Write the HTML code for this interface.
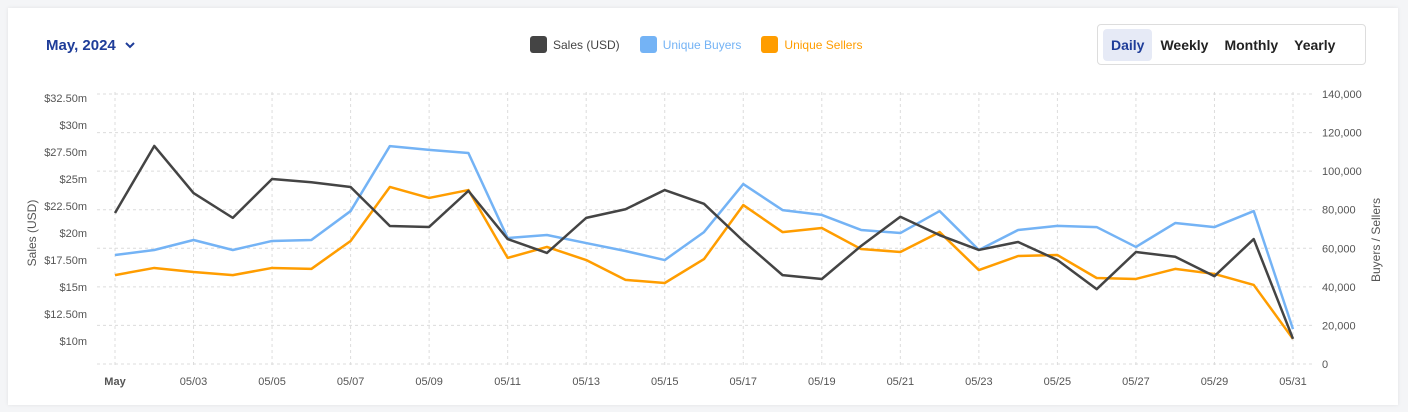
<!DOCTYPE html>
<html><head><meta charset="utf-8"><style>
body{margin:0;width:1408px;height:412px;background:#f4f5f7;font-family:"Liberation Sans",sans-serif;overflow:hidden}
.card{position:absolute;left:8px;top:8px;width:1390px;height:397px;background:#fff;box-shadow:0 0 4px rgba(0,0,0,.08)}
.month{position:absolute;left:46px;top:37px;color:#1f3d99;font-size:15px;font-weight:bold}
.legend{position:absolute;top:36px;left:530px;font-size:12px;display:flex;gap:20px}
.li{display:flex;align-items:center;gap:6px}
.sw{width:17px;height:17px;border-radius:3px}
.tabs{position:absolute;left:1097px;top:24px;width:269px;height:41px;border:1px solid #ddd;border-radius:4px;display:flex;align-items:center;padding-left:5px;box-sizing:border-box;font-size:14px;color:#222;font-weight:bold}
.tab{padding:8px 8px}
.tab.on{background:#e6eaf6;color:#1f3d99;border-radius:4px}
</style></head><body>
<div class="card"></div>
<div class="month">May, 2024 <svg width="12" height="10" style="margin-left:4px" viewBox="0 0 12 10"><polyline points="2,3 6,7 10,3" fill="none" stroke="#1f3d99" stroke-width="2"/></svg></div>
<div class="legend">
<div class="li"><div class="sw" style="background:#444"></div><span style="color:#444">Sales (USD)</span></div>
<div class="li"><div class="sw" style="background:#74b3f5"></div><span style="color:#74b3f5">Unique Buyers</span></div>
<div class="li"><div class="sw" style="background:#ff9d00"></div><span style="color:#ff9d00">Unique Sellers</span></div>
</div>
<div class="tabs">
<div class="tab on">Daily</div>
<div class="tab">Weekly</div>
<div class="tab">Monthly</div>
<div class="tab">Yearly</div>
</div>
<svg id="c" width="1408" height="412" style="position:absolute;left:0;top:0"></svg>
<script>
const sales=[21.85,28.06,23.7,21.4,25.0,24.7,24.26,20.65,20.56,23.9,19.44,18.15,21.4,22.2,23.98,22.7,19.26,16.1,15.74,18.8,21.5,19.8,18.43,19.17,17.5,14.8,18.24,17.8,16.0,19.44,10.2];
const buyers=[56500,59100,64300,59100,63800,64300,79300,113000,111000,109400,65300,66900,62700,58600,53900,68400,93300,79800,77300,69500,67900,79300,59100,69500,71600,71000,60700,73100,71000,79300,18100];
const sellers=[46100,49800,47700,46100,49800,49300,63800,91800,86100,90200,55000,60700,53900,43600,42000,54400,82400,68400,70500,59600,58100,68400,48700,56000,56500,44600,44100,49300,46700,41000,13000];
const leftTicks=[10,12.5,15,17.5,20,22.5,25,27.5,30,32.5];
const leftLabels=["$10m","$12.50m","$15m","$17.50m","$20m","$22.50m","$25m","$27.50m","$30m","$32.50m"];
const rightTicks=[0,20000,40000,60000,80000,100000,120000,140000];
const xLabels=["May","05/03","05/05","05/07","05/09","05/11","05/13","05/15","05/17","05/19","05/21","05/23","05/25","05/27","05/29","05/31"];
const svg=document.getElementById('c'),NS='http://www.w3.org/2000/svg';
const X=i=>115+i*(1178/30);
const YL=v=>341-(v-10)*10.8;
const YR=v=>364-v/140000*270;
function el(t,a,txt){const e=document.createElementNS(NS,t);for(const k in a)e.setAttribute(k,a[k]);if(txt!=null)e.textContent=txt;svg.appendChild(e);return e;}
rightTicks.forEach(v=>{const g=el('line',{x1:97,x2:1312,y1:YR(v),y2:YR(v),stroke:'#dcdcdc','stroke-dasharray':'3,3'});

const t=el('text',{x:1322,y:YR(v)+4,'font-size':11,fill:'#555'},v.toLocaleString('en-US'));
});
xLabels.forEach((l,k)=>{const g=el('line',{x1:X(k*2),x2:X(k*2),y1:92,y2:368,stroke:'#dcdcdc','stroke-dasharray':'3,3'});

const t=el('text',{x:X(k*2),y:385,'font-size':11,fill:'#555','text-anchor':'middle','font-weight':k==0?'bold':'normal'},l);
});
leftTicks.forEach((v,k)=>{const t=el('text',{x:87,y:YL(v)+4,'font-size':11,fill:'#555','text-anchor':'end'},leftLabels[k]);
});
let t=el('text',{x:0,y:0,'font-size':12,fill:'#555','text-anchor':'middle',transform:'translate(36,233) rotate(-90)'},'Sales (USD)');

t=el('text',{x:0,y:0,'font-size':12,fill:'#555','text-anchor':'middle',transform:'translate(1380,240) rotate(-90)'},'Buyers / Sellers');

function line(d,Y,c,n){const p=el('polyline',{points:d.map((v,i)=>X(i)+','+Y(v)).join(' '),fill:'none',stroke:c,'stroke-width':2.5,'stroke-linejoin':'round'});
}
line(buyers,YR,'#74b3f5','buyers-line');
line(sellers,YR,'#ff9d00','sellers-line');
line(sales,YL,'#444','sales-line');
</script>
</body></html>
